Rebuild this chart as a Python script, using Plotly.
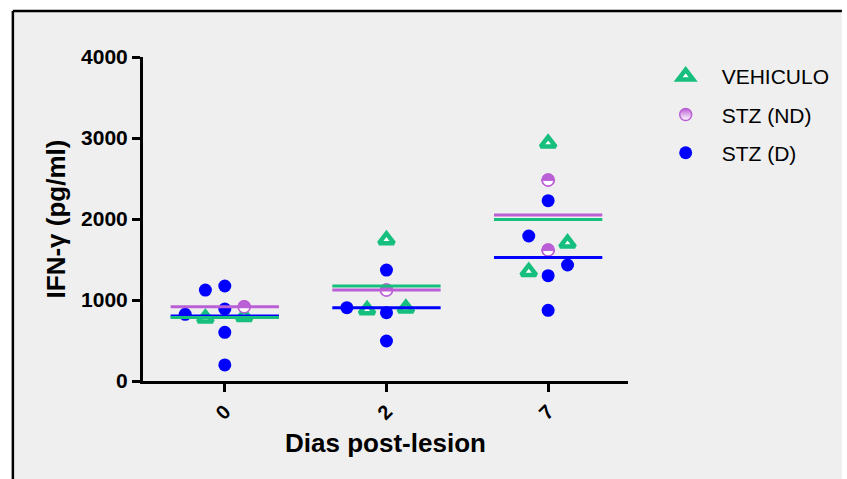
import numpy as np
import plotly.graph_objects as go

# ---------------- data ----------------
categories = ["0", "2", "7"]          # Dias post-lesion

# VEHICULO
veh_cat = [0, 0, 1, 1, 1, 2, 2, 2]
veh_val = [774, 794, 877, 1741, 897, 1350, 2934, 1700]
veh_off = [-0.12, 0.12, -0.12, 0.0, 0.12, -0.12, 0.0, 0.12]

# STZ (ND)
nd_cat = [0, 1, 2, 2]
nd_val = [917, 1123, 2481, 1617]
nd_off = [0.12, 0.0, 0.0, 0.0]

# STZ (D)
d_cat = [0, 0, 0, 0, 0, 0, 1, 1, 1, 1, 2, 2, 2, 2, 2]
d_val = [823, 1123, 1173, 889, 601, 198, 1370, 905, 843, 494,
         2226, 1790, 1432, 1300, 873]
d_off = [-0.245, -0.12, 0.0, 0.0, 0.0, 0.0, 0.0, -0.245, 0.0, 0.0,
         0.0, -0.12, 0.12, 0.0, 0.0]

y_ticks = [0, 1000, 2000, 3000, 4000]

# ---------------- styling ----------------
GREEN = "#17bf7e"
PURPLE = "#bb5fd6"
BLUE = "#0000ff"
BG = "#efefef"
FONT = "Liberation Sans, Arial, sans-serif"

W, H = 847, 479
L, T, R, B = 143, 57, 212, 98
PW, PH = W - L - R, H - T - B


def px2paper_x(px):
    return (px - L) / PW


def px2paper_y(py):
    return (H - B - py) / PH


def xpos(cat, off):
    return [c + o for c, o in zip(cat, off)]


def group_means(cat, val):
    cat = np.asarray(cat)
    val = np.asarray(val, dtype=float)
    return [float(val[cat == i].mean()) for i in range(len(categories))]


fig = go.Figure()

fig.add_trace(go.Scatter(
    x=xpos(d_cat, d_off), y=d_val, mode="markers", name="STZ (D)",
    marker=dict(symbol="circle", size=13, color=BLUE, line=dict(width=0)),
    legendgroup="d", legendrank=3,
))
fig.add_trace(go.Scatter(
    x=xpos(nd_cat, nd_off), y=nd_val, mode="markers", name="STZ (ND)",
    marker=dict(symbol="circle", size=12, color=PURPLE,
                gradient=dict(type="vertical", color="white"),
                line=dict(width=1.5, color=PURPLE)),
    legendgroup="nd", legendrank=2,
))
fig.add_trace(go.Scatter(
    x=xpos(veh_cat, veh_off), y=veh_val, mode="markers", name="VEHICULO",
    marker=dict(symbol="triangle-up", size=13, color="white",
                line=dict(width=4.5, color=GREEN)),
    legendgroup="veh", legendrank=1,
))

shapes = []
# outer frame: grey fill, black top and left borders
shapes.append(dict(type="rect", xref="paper", yref="paper",
                   x0=px2paper_x(11), x1=px2paper_x(W + 5),
                   y0=px2paper_y(H + 5), y1=px2paper_y(11),
                   fillcolor=BG, line=dict(width=0), layer="below"))
shapes.append(dict(type="line", xref="paper", yref="paper",
                   x0=px2paper_x(11), x1=px2paper_x(W + 5),
                   y0=px2paper_y(11), y1=px2paper_y(11),
                   line=dict(color="black", width=2.5), layer="below"))
shapes.append(dict(type="line", xref="paper", yref="paper",
                   x0=px2paper_x(11), x1=px2paper_x(11),
                   y0=px2paper_y(11), y1=px2paper_y(H + 5),
                   line=dict(color="black", width=2.5), layer="below"))

# half-filled symbols for STZ (ND)
r = 6.0
k = 0.5523 * r
top_half = (f"M {-r},0 C {-r},{k} {-k},{r} 0,{r} C {k},{r} {r},{k} {r},0 Z")
bot_half = (f"M {-r},0 C {-r},{-k} {-k},{-r} 0,{-r} C {k},{-r} {r},{-k} {r},0 Z")
for xv, yv in zip(xpos(nd_cat, nd_off), nd_val):
    for path, fill in ((bot_half, "white"), (top_half, PURPLE)):
        shapes.append(dict(type="path", xref="x", yref="y",
                           xsizemode="pixel", ysizemode="pixel",
                           xanchor=xv, yanchor=yv, path=path,
                           fillcolor=fill, line=dict(color=PURPLE, width=1.5),
                           layer="above"))

# mean lines
half = 0.335
for means, col in ((group_means(d_cat, d_val), BLUE),
                   (group_means(veh_cat, veh_val), GREEN),
                   (group_means(nd_cat, nd_val), PURPLE)):
    for i, m in enumerate(means):
        shapes.append(dict(type="line", xref="x", yref="y",
                           x0=i - half, x1=i + half, y0=m, y1=m,
                           line=dict(color=col, width=3), layer="above"))

fig.update_layout(
    width=W, height=H,
    margin=dict(l=L, r=R, t=T, b=B),
    paper_bgcolor="white", plot_bgcolor="rgba(0,0,0,0)",
    font=dict(family=FONT, color="black"),
    shapes=shapes,
    showlegend=True,
    legend=dict(x=px2paper_x(657), xanchor="left",
                y=px2paper_y(56), yanchor="top",
                bgcolor="rgba(0,0,0,0)", font=dict(size=21, family=FONT),
                traceorder="grouped", tracegroupgap=8, itemwidth=62),
    xaxis=dict(range=[-0.506, 2.494], tickmode="array",
               tickvals=list(range(len(categories))), ticktext=categories,
               tickangle=-45, ticks="outside", ticklen=8, tickwidth=3,
               tickcolor="black", showline=True, linewidth=3,
               linecolor="black", showgrid=False, zeroline=False,
               tickfont=dict(size=20, family=FONT, weight="bold"),
               title=dict(text="Dias post-lesion", standoff=12,
                          font=dict(size=26, family=FONT, weight="bold"))),
    yaxis=dict(range=[0, 4000], tickmode="array", tickvals=y_ticks,
               ticks="outside", ticklen=8, tickwidth=3, tickcolor="black",
               showline=True, linewidth=3, linecolor="black",
               showgrid=False, zeroline=False,
               tickfont=dict(size=21, family=FONT, weight="bold"),
               title=dict(text="IFN-γ (pg/ml)", standoff=8,
                          font=dict(size=26, family=FONT, weight="bold"))),
)

fig.write_html(
    "out.html",
    config={"displayModeBar": False},
    post_script=("document.documentElement.style.overflow='hidden';"
                 "document.body.style.margin='0px';"
                 "document.body.style.overflow='hidden';"
                 "document.body.style.background='#efefef';"),
)
